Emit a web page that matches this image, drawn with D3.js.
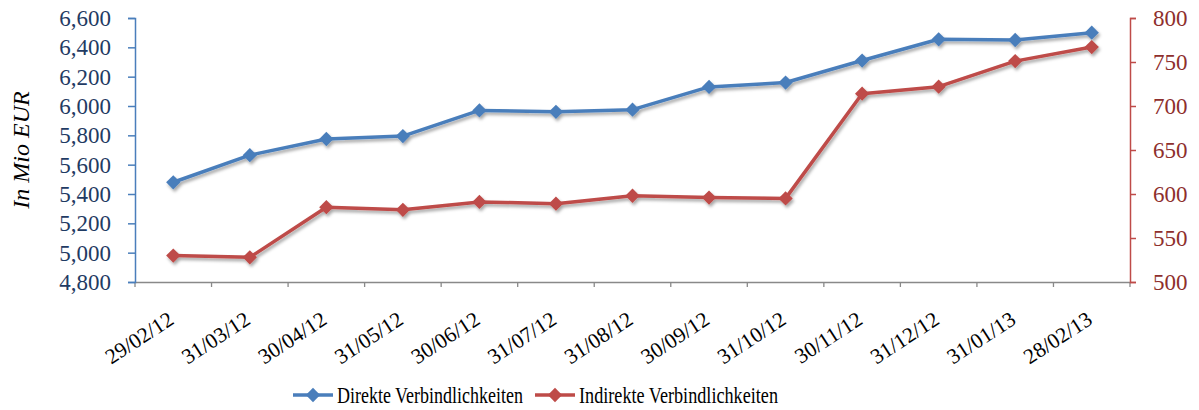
<!DOCTYPE html>
<html>
<head>
<meta charset="utf-8">
<script src="https://cdn.jsdelivr.net/npm/d3@7"></script>
<style>
  body { margin: 0; background: #fff; }
  svg { display: block; }
</style>
</head>
<body>
<svg id="chart" width="1199" height="410"></svg>
<script>
const dates = ['29/02/12', '31/03/12', '30/04/12', '31/05/12', '30/06/12', '31/07/12', '31/08/12',
  '30/09/12', '31/10/12', '30/11/12', '31/12/12', '31/01/13', '28/02/13'];
const direkte = [5480, 5665, 5775, 5795, 5970, 5960, 5975, 6130, 6160, 6310, 6455, 6450, 6500];
const indirekte = [530, 528, 585, 582, 591, 589, 598, 596, 595, 714, 722, 751, 767];
const leftTicks = [4800, 5000, 5200, 5400, 5600, 5800, 6000, 6200, 6400, 6600];
const rightTicks = [500, 550, 600, 650, 700, 750, 800];

const blue = '#4a7ebb', red = '#be4b48';
const serif = '"Liberation Serif", "Times New Roman", serif';
const margin = { top: 18, right: 69, bottom: 128, left: 135 };
const width = 1199, height = 410;

const svg = d3.select('#chart');

// soft shadow like the office chart
const defs = svg.append('defs');
const f = defs.append('filter').attr('id', 'shadow').attr('x', '-20%').attr('y', '-20%').attr('width', '140%').attr('height', '160%');
f.append('feDropShadow').attr('dx', 1.5).attr('dy', 2.5).attr('stdDeviation', 1.8).attr('flood-color', '#000').attr('flood-opacity', 0.35);

const x = d3.scaleBand()
  .domain(dates)
  .range([margin.left, width - margin.right]);

const yL = d3.scaleLinear()
  .domain([4800, 6600])
  .range([height - margin.bottom, margin.top]);

const yR = d3.scaleLinear()
  .domain([500, 800])
  .range([height - margin.bottom, margin.top]);

// x axis
const xAxis = svg.append('g')
  .attr('transform', 'translate(0,' + (height - margin.bottom) + ')')
  .call(d3.axisBottom(x).tickSize(0).tickFormat(''));
xAxis.select('.domain').attr('stroke', '#898989').attr('stroke-width', 1.3);
xAxis.selectAll('.tick').remove();
xAxis.selectAll('line.xt')
  .data(d3.range(dates.length + 1))
  .enter().append('line')
  .attr('class', 'xt')
  .attr('x1', i => margin.left + i * x.step())
  .attr('x2', i => margin.left + i * x.step())
  .attr('y1', 0).attr('y2', 5)
  .attr('stroke', '#898989').attr('stroke-width', 1.3);
xAxis.selectAll('text.xl')
  .data(dates)
  .enter().append('text')
  .attr('class', 'xl')
  .attr('transform', d => 'translate(' + (x(d) + x.bandwidth() / 2 + 2) + ',41) rotate(-33)')
  .attr('text-anchor', 'end')
  .style('font-family', serif)
  .attr('font-size', 21.5)
  .attr('fill', '#000')
  .text(d => d);

// left axis
const gL = svg.append('g')
  .attr('transform', 'translate(' + margin.left + ',0)')
  .call(d3.axisLeft(yL).tickValues(leftTicks).tickSize(7).tickPadding(17).tickFormat(d3.format(',')));
gL.select('.domain').attr('stroke', blue).attr('stroke-width', 1.5);
gL.selectAll('.tick line').attr('stroke', blue).attr('stroke-width', 1.5);
gL.selectAll('.tick text').style('font-family', serif).attr('font-size', 23).attr('fill', '#1f3b63');

// right axis
const gR = svg.append('g')
  .attr('transform', 'translate(' + (width - margin.right) + ',0)')
  .call(d3.axisRight(yR).tickValues(rightTicks).tickSize(6).tickPadding(17));
gR.select('.domain').attr('stroke', red).attr('stroke-width', 1.5);
gR.selectAll('.tick line').attr('stroke', red).attr('stroke-width', 1.5);
gR.selectAll('.tick text').style('font-family', serif).attr('font-size', 23).attr('fill', '#8e2f2d');

// y title
svg.append('text')
  .attr('transform', 'translate(29,' + ((margin.top + height - margin.bottom) / 2) + ') rotate(-90)')
  .attr('text-anchor', 'middle')
  .style('font-family', serif)
  .attr('font-size', 24)
  .attr('font-style', 'italic')
  .text('In Mio EUR');

const cx = d => x(d) + x.bandwidth() / 2;
const diamond = d3.symbol().type(d3.symbolDiamond2).size(130);

function drawSeries(values, scale, color) {
  const g = svg.append('g').attr('filter', 'url(#shadow)');
  g.append('path')
    .datum(values)
    .attr('fill', 'none')
    .attr('stroke', color)
    .attr('stroke-width', 3.5)
    .attr('stroke-linejoin', 'round')
    .attr('d', d3.line().x((d, i) => cx(dates[i])).y(d => scale(d)));
  g.selectAll('path.m')
    .data(values)
    .enter().append('path')
    .attr('class', 'm')
    .attr('d', diamond)
    .attr('transform', (d, i) => 'translate(' + cx(dates[i]) + ',' + scale(d) + ')')
    .attr('fill', color);
}

drawSeries(direkte, yL, blue);
drawSeries(indirekte, yR, red);

// legend
const legend = svg.append('g').attr('transform', 'translate(0,395)');
const items = [
  { name: 'Direkte Verbindlichkeiten', color: blue, x: 293, w: 186 },
  { name: 'Indirekte Verbindlichkeiten', color: red, x: 535, w: 199 }
];
items.forEach(it => {
  const g = legend.append('g').attr('transform', 'translate(' + it.x + ',0)');
  g.append('line').attr('x1', 0).attr('x2', 40).attr('stroke', it.color).attr('stroke-width', 3.5);
  g.append('path').attr('d', diamond).attr('transform', 'translate(20,0)').attr('fill', it.color);
  g.append('text').attr('x', 44).attr('dy', '0.35em')
    .style('font-family', serif).attr('font-size', 23)
    .attr('textLength', it.w).attr('lengthAdjust', 'spacingAndGlyphs').text(it.name);
});
</script>
</body>
</html>
